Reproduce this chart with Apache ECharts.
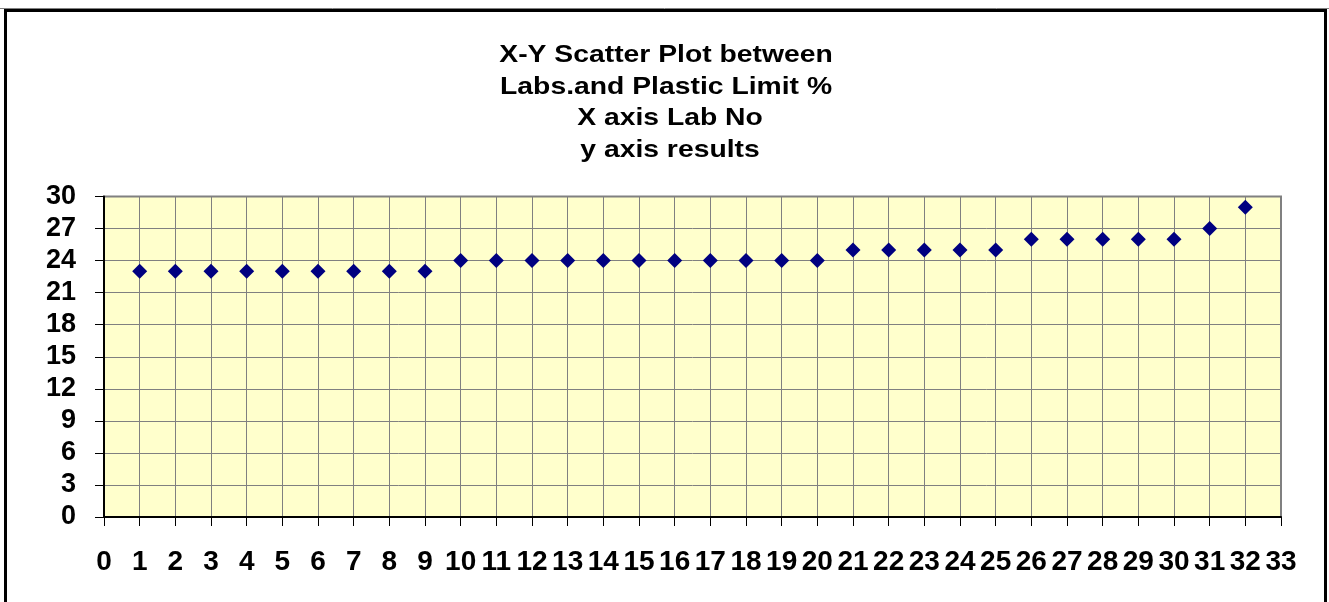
<!DOCTYPE html>
<html>
<head>
<meta charset="utf-8">
<script src="https://cdn.jsdelivr.net/npm/echarts@6/dist/echarts.min.js"></script>
<style>
html,body{margin:0;padding:0;background:#fff;}
#chart{width:1329px;height:602px;}
</style>
</head>
<body>
<div id="chart"></div>
<script>
const titleLines = ["X-Y Scatter Plot between ", "Labs.and Plastic Limit % ", "X axis Lab No", "y axis results"];
const labNo = [1,2,3,4,5,6,7,8,9,10,11,12,13,14,15,16,17,18,19,20,21,22,23,24,25,26,27,28,29,30,31,32];
const results = [23,23,23,23,23,23,23,23,23,24,24,24,24,24,24,24,24,24,24,24,25,25,25,25,25,26,26,26,26,26,27,29];
const xRange = [0, 33];
const yRange = [0, 30];
const yStep = 3;

const chart = echarts.init(document.getElementById('chart'));
const points = labNo.map((x, i) => [x, results[i]]);
const font = 'Arial, "Liberation Sans", sans-serif';

chart.setOption({
  animation: false,
  backgroundColor: '#ffffff',
  grid: {
    left: 104,
    right: 48,
    top: 196.5,
    bottom: 85,
    show: true,
    backgroundColor: '#FFFFCC',
    borderColor: '#808080',
    borderWidth: 2
  },
  xAxis: {
    type: 'value',
    min: xRange[0],
    max: xRange[1],
    interval: 1,
    axisLine: { show: true, onZero: false, lineStyle: { color: '#000', width: 2 } },
    axisTick: { show: true, inside: false, length: 9, lineStyle: { color: '#000', width: 1 } },
    axisLabel: { margin: 31, fontFamily: font, fontWeight: 'bold', fontSize: 28, color: '#000' },
    splitLine: { show: true, lineStyle: { color: '#808080', width: 1 } }
  },
  yAxis: {
    type: 'value',
    min: yRange[0],
    max: yRange[1],
    interval: yStep,
    axisLine: { show: true, onZero: false, lineStyle: { color: '#000', width: 2 } },
    axisTick: { show: true, inside: false, length: 9, lineStyle: { color: '#000', width: 1 } },
    axisLabel: { margin: 28, fontFamily: font, fontWeight: 'bold', fontSize: 27, color: '#000' },
    splitLine: { show: true, lineStyle: { color: '#808080', width: 1 } }
  },
  series: [{
    type: 'scatter',
    data: points,
    symbol: 'diamond',
    symbolSize: 15,
    itemStyle: { color: '#000080', opacity: 1 },
    z: 5
  }],
  graphic: [
    { type: 'line', shape: { x1: 0, y1: 8.5, x2: 1329, y2: 8.5 }, style: { stroke: '#808080', lineWidth: 1 }, silent: true },
    { type: 'rect', shape: { x: 5.5, y: 10.5, width: 1320, height: 600 }, style: { fill: 'none', stroke: '#000', lineWidth: 3 }, silent: true },
    {
      type: 'text', x: 670, y: 40, scaleX: 1.18, silent: true,
      style: {
        text: titleLines.join('\n'),
        align: 'center', verticalAlign: 'top',
        font: 'bold 24px Arial, "Liberation Sans", sans-serif',
        lineHeight: 31.5,
        fill: '#000'
      }
    }
  ]
});
</script>
</body>
</html>
